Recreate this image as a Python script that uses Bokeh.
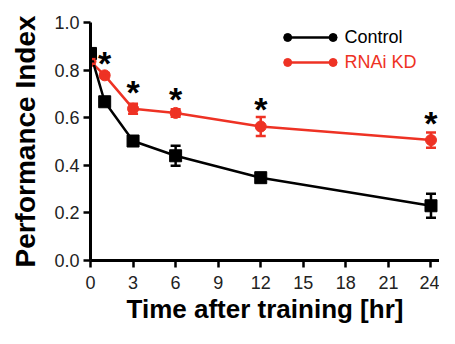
from bokeh.plotting import figure
from bokeh.models import ColumnDataSource, Whisker, TeeHead, FixedTicker, NumeralTickFormatter, Range1d
from bokeh.core.properties import value
from bokeh.embed import file_html
from bokeh.resources import INLINE

# ---- data ----
times = [0, 1, 3, 6, 12, 24]
control = [0.87, 0.667, 0.502, 0.44, 0.348, 0.23]
control_err = [0.012, 0.012, 0.012, 0.042, 0.014, 0.05]
rnai = [0.837, 0.778, 0.638, 0.62, 0.563, 0.506]
rnai_err = [0.01, 0.01, 0.021, 0.016, 0.04, 0.032]
star_times = [1, 3, 6, 12, 24]
star_y = [0.85, 0.727, 0.70, 0.657, 0.596]
x_ticks = [0, 3, 6, 9, 12, 15, 18, 21, 24]
y_ticks = [0.0, 0.2, 0.4, 0.6, 0.8, 1.0]
series_names = ["Control", "RNAi KD"]

BLACK = "#000000"
RED = "#ee3224"
FONT = "Liberation Sans"

p = figure(width=439, height=328, output_backend="svg", toolbar_location=None,
           x_range=Range1d(0, 24.6), y_range=Range1d(0, 1.0),
           min_border_left=90, min_border_right=0, min_border_top=22, min_border_bottom=68)
p.outline_line_color = None
p.grid.visible = False
p.background_fill_color = "white"

src_c = ColumnDataSource(dict(x=times, y=control,
                              lo=[v - e for v, e in zip(control, control_err)],
                              hi=[v + e for v, e in zip(control, control_err)]))
src_r = ColumnDataSource(dict(x=times, y=rnai,
                              lo=[v - e for v, e in zip(rnai, rnai_err)],
                              hi=[v + e for v, e in zip(rnai, rnai_err)]))

# RNAi KD series
p.line("x", "y", source=src_r, line_color=RED, line_width=2.5)
wr = Whisker(source=src_r, base="x", lower="lo", upper="hi", line_color=RED, line_width=2.5,
             upper_head=TeeHead(size=10, line_color=RED, line_width=2.5),
             lower_head=TeeHead(size=10, line_color=RED, line_width=2.5), level="glyph")
p.add_layout(wr)
p.scatter("x", "y", source=src_r, marker="circle", size=11, fill_color=RED, line_color=RED)

# Control series
p.line("x", "y", source=src_c, line_color=BLACK, line_width=2.5)
wc = Whisker(source=src_c, base="x", lower="lo", upper="hi", line_color=BLACK, line_width=2.5,
             upper_head=TeeHead(size=10, line_color=BLACK, line_width=2.5),
             lower_head=TeeHead(size=10, line_color=BLACK, line_width=2.5), level="glyph")
p.add_layout(wc)
p.scatter("x", "y", source=src_c, marker="square", size=12, fill_color=BLACK, line_color=BLACK)

# significance stars
p.text(x=star_times, y=[v - 0.02 for v in star_y], text=["*"] * len(star_times),
       text_font=value(FONT), text_font_style="bold", text_font_size="34px",
       text_align="center", text_baseline="alphabetic", text_color=BLACK)

# manual legend
leg_x = [13.9, 17.1]
leg_y = [0.937, 0.832]
leg_colors = [BLACK, RED]
for yy, col, name in zip(leg_y, leg_colors, series_names):
    p.line(leg_x, [yy, yy], line_color=col, line_width=2.5)
    p.scatter(leg_x, [yy, yy], marker="circle", size=8, fill_color=col, line_color=col)
    p.text(x=[17.9], y=[yy], text=[name], text_font=value(FONT), text_font_size="18px",
           text_color=col, text_align="left", text_baseline="middle")

# axes
for ax in (p.xaxis[0], p.yaxis[0]):
    ax.axis_line_width = 3
    ax.axis_line_color = BLACK
    ax.major_tick_line_width = 2.5
    ax.major_tick_line_color = BLACK
    ax.major_tick_out = 7
    ax.major_tick_in = 0
    ax.minor_tick_line_color = None
    ax.major_label_text_font = FONT
    ax.major_label_text_font_size = "18px"
    ax.major_label_text_color = "#222222"
    ax.axis_label_text_font = FONT
    ax.axis_label_text_font_style = "bold"
    ax.axis_label_text_color = BLACK

p.xaxis.ticker = FixedTicker(ticks=x_ticks)
p.yaxis.ticker = FixedTicker(ticks=y_ticks)
p.yaxis.formatter = NumeralTickFormatter(format="0.0")
p.xaxis.axis_label = "Time after training [hr]"
p.yaxis.axis_label = "Performance Index"
p.xaxis.axis_label_text_font_size = "26px"
p.yaxis.axis_label_text_font_size = "28px"
p.xaxis.major_label_standoff = 8
p.yaxis.major_label_standoff = 4
p.xaxis.axis_label_standoff = 2
p.yaxis.axis_label_standoff = 10

open("out.html", "w").write(file_html(p, INLINE))
